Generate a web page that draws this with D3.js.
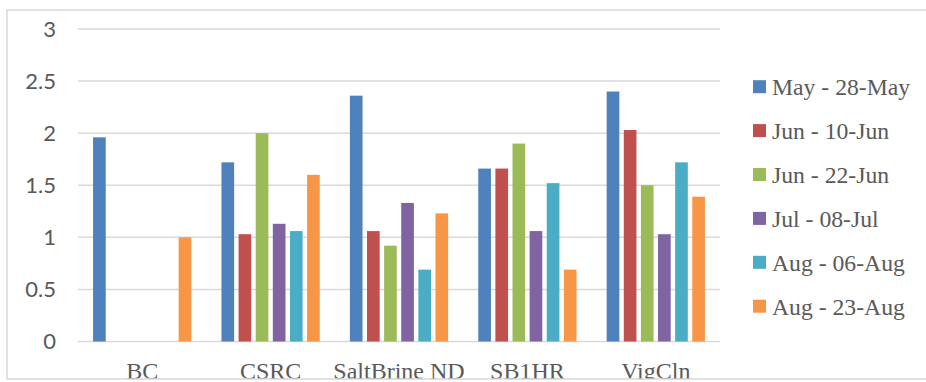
<!DOCTYPE html>
<html><head><meta charset="utf-8">
<script src="https://cdn.jsdelivr.net/npm/d3@7"></script>
<style>html,body{margin:0;padding:0;background:#fff;}svg{display:block;}</style>
</head><body>
<script>
const categories = ["BC", "CSRC", "SaltBrine ND", "SB1HR", "VigCln"];
const seriesNames = ["May - 28-May", "Jun - 10-Jun", "Jun - 22-Jun", "Jul - 08-Jul", "Aug - 06-Aug", "Aug - 23-Aug"];
const mayValues = [1.96, 1.72, 2.36, 1.66, 2.40];
const jun10Values = [0, 1.03, 1.06, 1.66, 2.03];
const jun22Values = [0, 2.00, 0.92, 1.90, 1.50];
const jul08Values = [0, 1.13, 1.33, 1.06, 1.03];
const aug06Values = [0, 1.06, 0.69, 1.52, 1.72];
const aug23Values = [1.00, 1.60, 1.23, 0.69, 1.39];
const yTicks = [0, 0.5, 1, 1.5, 2, 2.5, 3];
const colors = ["#4F81BD", "#C0504D", "#9BBB59", "#8064A2", "#4BACC6", "#F79646"];

const seriesValues = [mayValues, jun10Values, jun22Values, jul08Values, aug06Values, aug23Values];

const W = 926, H = 382;
const svg = d3.select("body").append("svg").attr("width", W).attr("height", H);

svg.append("defs").append("clipPath").attr("id", "frame")
  .append("rect").attr("x", 7).attr("y", 10).attr("width", 930).attr("height", 369);

const g = svg.append("g").attr("clip-path", "url(#frame)");

const plotL = 78, plotR = 720;
const y = d3.scaleLinear().domain([0, 3]).range([341.5, 29]);
const x0 = d3.scaleBand().domain(categories).range([plotL, plotR]).paddingInner(0.2).paddingOuter(0.1);
const x1 = d3.scaleBand().domain(d3.range(seriesNames.length)).range([0, x0.bandwidth()]).paddingInner(0.26).paddingOuter(0.13);

// gridlines
g.append("g").selectAll("line").data(yTicks).join("line")
  .attr("x1", plotL).attr("x2", plotR)
  .attr("y1", d => y(d)).attr("y2", d => y(d))
  .attr("stroke", "#d9d9d9").attr("stroke-width", 1.5);

// y axis labels
const yAxis = d3.axisLeft(y).tickValues(yTicks).tickSize(0).tickPadding(0).tickFormat(d3.format("~g"));
const ya = g.append("g").attr("transform", "translate(56,0)").call(yAxis);
ya.select(".domain").remove();
ya.selectAll("text").attr("font-family", "Lato, 'Open Sans', sans-serif").attr("font-size", 22).attr("fill", "#595959");

// bars
const groups = g.append("g").selectAll("g").data(categories).join("g")
  .attr("transform", d => `translate(${x0(d)},0)`);
groups.selectAll("rect").data((c, ci) => seriesValues.map((vals, si) => ({si, v: vals[ci]})).filter(d => d.v > 0))
  .join("rect")
  .attr("x", d => x1(d.si)).attr("width", x1.bandwidth())
  .attr("y", d => y(d.v)).attr("height", d => y(0) - y(d.v))
  .attr("fill", d => colors[d.si]);

// x labels
const xAxis = d3.axisBottom(x0).tickSize(0).tickPadding(0);
const xa = g.append("g").attr("transform", "translate(0,378.5)").call(xAxis);
xa.select(".domain").remove();
xa.selectAll("text").attr("dy", 0).attr("font-family", "'Liberation Serif', 'DejaVu Serif', serif").attr("font-size", 24).attr("fill", "#595959");

// legend
const leg = g.append("g").selectAll("g").data(seriesNames).join("g")
  .attr("transform", (d, i) => `translate(753,${86.7 + i * 43.9})`);
leg.append("rect").attr("x", 0).attr("y", -6.5).attr("width", 13).attr("height", 13).attr("fill", (d, i) => colors[i]);
leg.append("text").attr("x", 19).attr("y", 8.3).text(d => d)
  .attr("font-family", "'Liberation Serif', 'DejaVu Serif', serif").attr("font-size", 23.7).attr("fill", "#595959");

// frame
svg.append("rect").attr("x", 7).attr("y", 10).attr("width", 930).attr("height", 369)
  .attr("fill", "none").attr("stroke", "#d9d9d9").attr("stroke-width", 1.5);
</script>
</body></html>
